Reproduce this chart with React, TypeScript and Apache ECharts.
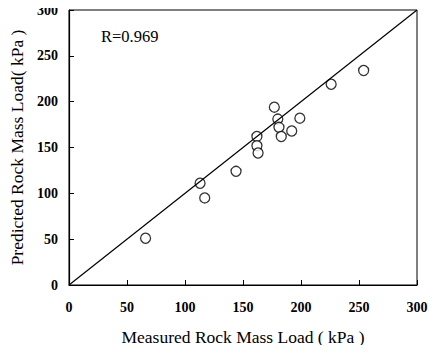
import React, { useEffect, useRef } from "react";
import * as echarts from "echarts";

// Measured vs predicted rock mass load (kPa)
const measured = [66, 113, 117, 144, 162, 162, 163, 177, 180, 181, 183, 192, 199, 226, 254];
const predicted = [51, 111, 95, 124, 162, 152, 144, 194, 181, 172, 162, 168, 182, 219, 234];
const axisTicks = [0, 50, 100, 150, 200, 250, 300];
const rLabel = "R=0.969";

const serif = "'Liberation Serif', 'Times New Roman', serif";

export default function App() {
  const ref = useRef<HTMLDivElement>(null);
  useEffect(() => {
    if (!ref.current) return;
    const chart = echarts.init(ref.current, undefined, { renderer: "svg" });
    const points = measured.map((m, i) => [m, predicted[i]]);
    const lo = axisTicks[0];
    const hi = axisTicks[axisTicks.length - 1];
    const axisCommon = {
      min: lo,
      max: hi,
      interval: 50,
      splitLine: { show: false },
      axisLine: { show: true, lineStyle: { color: "#000", width: 1.2 } },
      axisTick: { show: true, inside: true, length: 5, lineStyle: { color: "#000" } },
      axisLabel: { color: "#000", fontFamily: serif, fontSize: 14, fontWeight: "bold" as const },
      nameLocation: "middle" as const,
      nameTextStyle: { color: "#000", fontFamily: serif, fontSize: 17.5 },
    };
    chart.setOption({
      animation: false,
      backgroundColor: "#fff",
      grid: { left: 69, top: 10, right: 21, bottom: 68, show: true, borderColor: "#000", borderWidth: 1 },
      xAxis: {
        ...axisCommon,
        type: "value",
        name: "Measured Rock Mass Load ( kPa )",
        nameGap: 43,
        axisLabel: { ...axisCommon.axisLabel, margin: 15 },
      },
      yAxis: {
        ...axisCommon,
        type: "value",
        name: "Predicted Rock Mass Load( kPa )",
        nameGap: 40,
        axisLabel: { ...axisCommon.axisLabel, margin: 11 },
      },
      graphic: [
        {
          type: "text",
          left: 101,
          top: 28,
          style: { text: rLabel, fill: "#000", font: `16.5px ${serif}` },
        },
      ],
      series: [
        {
          type: "line",
          data: [[lo, lo], [hi, hi]],
          symbol: "none",
          lineStyle: { color: "#000", width: 1.2 },
          silent: true,
        },
        {
          type: "scatter",
          data: points,
          symbol: "circle",
          symbolSize: 10,
          itemStyle: { color: "#fff", borderColor: "#000", borderWidth: 1.3 },
        },
      ],
    });
    return () => chart.dispose();
  }, []);
  return <div ref={ref} style={{ width: 438, height: 353, margin: -8 }} />;
}
